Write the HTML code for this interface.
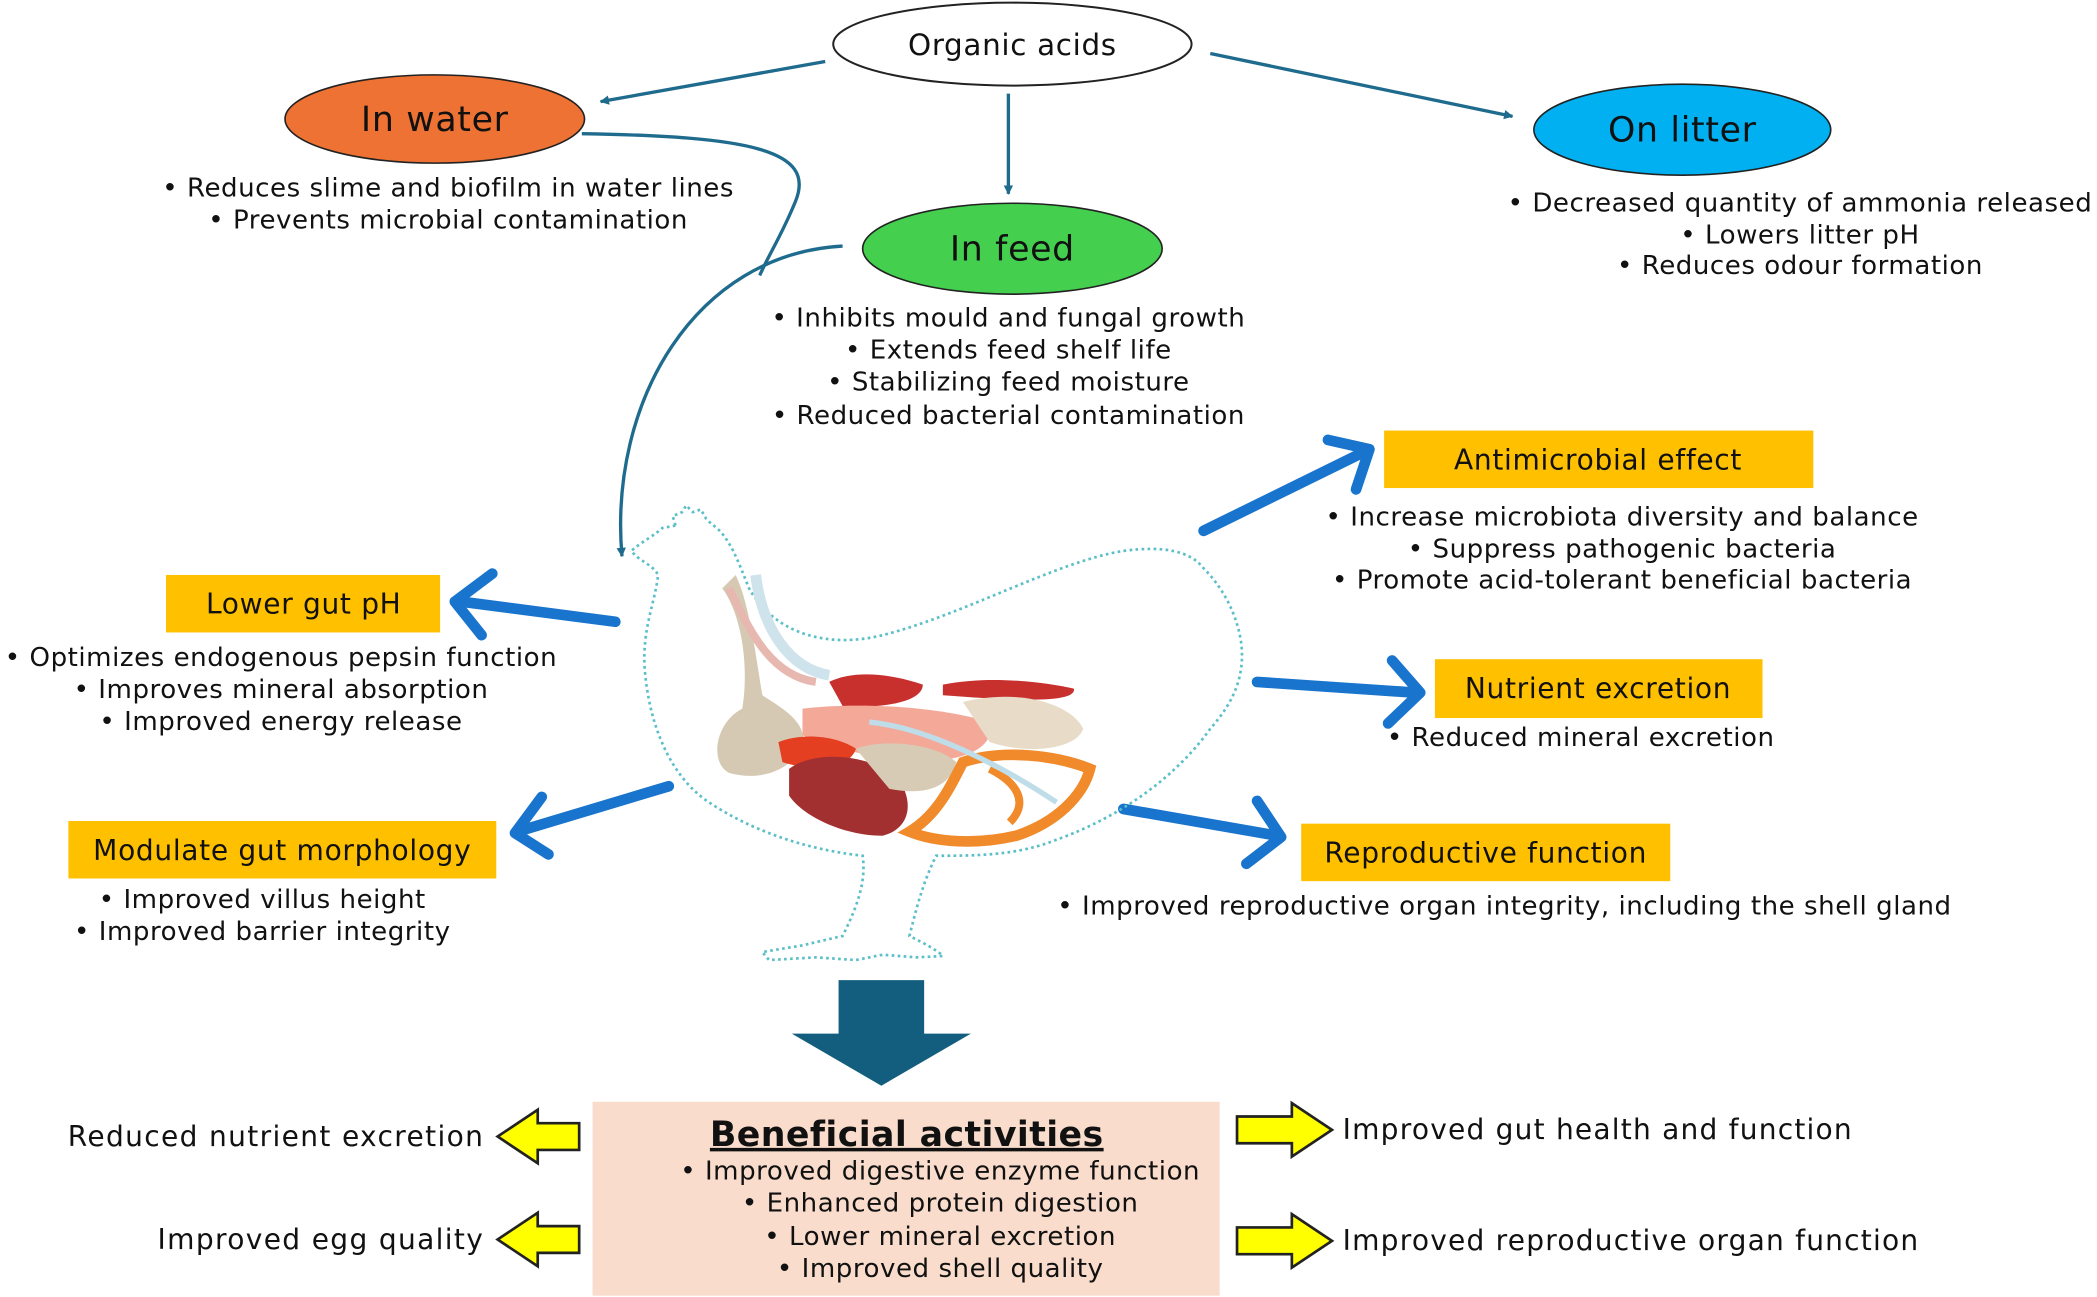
<!DOCTYPE html>
<html><head><meta charset="utf-8"><style>
html,body{margin:0;padding:0;background:#fff;}
svg{display:block;}
text{font-family:"DejaVu Sans","Liberation Sans",sans-serif;fill:#111;letter-spacing:0.5px;}
.b{font-size:19.5px;text-anchor:middle;letter-spacing:0.4px;}
.h{font-size:21px;text-anchor:middle;}
</style></head><body>
<svg width="2097" height="1297" viewBox="0 0 1568 970" xmlns="http://www.w3.org/2000/svg">
<defs>
<marker id="ta" viewBox="0 0 10 10" refX="9" refY="5" markerWidth="7" markerHeight="7" orient="auto-start-reverse" markerUnits="userSpaceOnUse">
<path d="M0,0 L10,5 L0,10 z" fill="#1F6B8E"/></marker>
</defs>
<rect width="1568" height="970" fill="#fff"/>

<g stroke="#1F6B8E" stroke-width="2.5" fill="none">
<line x1="617" y1="46" x2="449" y2="76" marker-end="url(#ta)"/>
<line x1="754" y1="70" x2="754" y2="145" marker-end="url(#ta)"/>
<line x1="905" y1="40" x2="1131" y2="87" marker-end="url(#ta)"/>
<path d="M435,100 C560,102 610,112 595,150 C585,175 575,190 568,206"/>
<path d="M630,184 C520,190 455,300 465,416" marker-end="url(#ta)"/>
</g>

<ellipse cx="757" cy="33" rx="134" ry="31" fill="#fff" stroke="#222" stroke-width="1.5"/>
<text x="757" y="41" class="h" style="font-size:22px">Organic acids</text>
<ellipse cx="325" cy="89" rx="112" ry="33" fill="#ED7233" stroke="#222" stroke-width="1.2"/>
<text x="325" y="98" class="h" style="font-size:26px">In water</text>
<ellipse cx="1258" cy="97" rx="111" ry="34" fill="#00B0F0" stroke="#222" stroke-width="1.2"/>
<text x="1258" y="106" class="h" style="font-size:26px">On litter</text>
<ellipse cx="757" cy="186" rx="112" ry="34" fill="#44CF4F" stroke="#222" stroke-width="1.2"/>
<text x="757" y="195" class="h" style="font-size:26px">In feed</text>

<text x="335" y="147" class="b">•    Reduces slime and biofilm in water lines</text>
<text x="335" y="171" class="b">•    Prevents microbial contamination</text>
<text x="1346" y="158" class="b">•    Decreased quantity of ammonia released</text>
<text x="1346" y="182" class="b">•    Lowers litter pH</text>
<text x="1346" y="205" class="b">•    Reduces odour formation</text>
<text x="754" y="244" class="b">•    Inhibits mould and fungal growth</text>
<text x="754" y="268" class="b">•    Extends feed shelf life</text>
<text x="754" y="292" class="b">•    Stabilizing feed moisture</text>
<text x="754" y="317" class="b">•    Reduced bacterial contamination</text>

<g fill="#FFC000">
<rect x="1035" y="322" width="321" height="43"/>
<rect x="124" y="430" width="205" height="43"/>
<rect x="1073" y="493" width="245" height="44"/>
<rect x="51" y="614" width="320" height="43"/>
<rect x="973" y="616" width="276" height="43"/>
</g>
<text x="1195" y="351" class="h">Antimicrobial effect</text>
<text x="227" y="459" class="h">Lower gut pH</text>
<text x="1195" y="522" class="h">Nutrient excretion</text>
<text x="211" y="643" class="h">Modulate gut morphology</text>
<text x="1111" y="645" class="h">Reproductive function</text>

<text x="1213" y="393" class="b">•    Increase microbiota diversity and balance</text>
<text x="1213" y="417" class="b">•    Suppress pathogenic bacteria</text>
<text x="1213" y="440" class="b">•    Promote acid-tolerant beneficial bacteria</text>
<text x="210" y="498" class="b">•    Optimizes endogenous pepsin function</text>
<text x="210" y="522" class="b">•    Improves mineral absorption</text>
<text x="210" y="546" class="b">•    Improved energy release</text>
<text x="1182" y="558" class="b">•    Reduced mineral excretion</text>
<text x="196" y="679" class="b">•    Improved villus height</text>
<text x="196" y="703" class="b">•    Improved barrier integrity</text>
<text x="1125" y="684" class="b">•    Improved reproductive organ integrity, including the shell gland</text>

<g stroke="#1874CD" stroke-width="8" fill="none" stroke-linecap="round" stroke-linejoin="round">
<line x1="900" y1="397" x2="1020" y2="338"/><polyline points="993,329 1024,336 1014,366"/>
<line x1="460" y1="465" x2="345" y2="450"/><polyline points="368,429 340,450 360,475"/>
<line x1="940" y1="510" x2="1058" y2="518"/><polyline points="1041,494 1062,518 1038,541"/>
<line x1="500" y1="588" x2="390" y2="621"/><polyline points="405,596 385,623 410,639"/>
<line x1="840" y1="605" x2="955" y2="625"/><polyline points="940,599 958,626 932,646"/>
</g>

<g>
<path d="M505,393 L503,386 L510,383 L513,378 L518,383 L524,381 L528,388 L532,392 C545,400 552,420 560,440 C580,475 620,485 660,475 C720,460 790,420 840,412 C870,408 890,412 900,425 C915,440 925,460 928,480 C932,510 918,530 905,545 C880,580 840,610 790,628 C760,640 730,640 700,640 C690,660 685,680 680,700 C690,705 700,710 705,715 L685,716 L660,714 L640,718 L610,716 L575,718 L570,712 L600,707 L630,700 C640,680 648,660 645,640 C600,635 560,620 530,600 C500,580 485,540 482,500 C480,470 490,450 492,430 C488,422 478,420 472,412 C480,405 490,400 495,395 Z" fill="none" stroke="#5BBFC8" stroke-width="2" stroke-dasharray="2,2.5"/>
<path d="M540,440 C555,460 560,500 555,530 C535,540 530,570 545,578 C570,585 590,575 600,560 C605,540 585,530 570,520 C565,490 560,450 550,430 Z" fill="#D6C9B3"/>
<path d="M545,440 C560,470 575,505 610,510" fill="none" stroke="#E7B8B0" stroke-width="6"/>
<path d="M565,430 C570,470 590,500 620,505" fill="none" stroke="#CFE3EC" stroke-width="8"/>
<path d="M620,510 C640,500 670,505 690,512 C690,525 660,530 630,528 Z" fill="#C8302E"/>
<path d="M705,512 C740,505 780,510 803,515 C805,525 770,525 705,520 Z" fill="#C8302E"/>
<path d="M600,530 C640,525 700,528 740,540 C745,560 720,570 680,570 C650,565 620,560 600,550 Z" fill="#F3A898"/>
<path d="M720,525 C760,515 800,525 810,545 C805,560 770,565 740,555 Z" fill="#E8DCC8"/>
<path d="M582,555 C600,548 625,550 640,560 C635,575 610,578 585,570 Z" fill="#E53F22"/>
<path d="M590,575 C610,560 650,565 670,580 C685,600 680,620 660,625 C630,625 600,610 590,595 Z" fill="#A23030"/>
<path d="M640,560 C660,552 700,556 715,570 C710,590 690,595 665,590 Z" fill="#D8CBB5"/>
<path d="M720,570 C750,560 790,565 815,575 C810,595 790,615 760,625 C730,632 700,630 680,622 C700,610 710,590 720,570 Z" fill="none" stroke="#F08A2A" stroke-width="8"/>
<path d="M740,575 C760,585 770,600 755,615" fill="none" stroke="#F08A2A" stroke-width="6"/>
<path d="M650,540 C700,545 760,580 790,600" fill="none" stroke="#BFDDE8" stroke-width="4"/>
</g>

<polygon points="627,733 691,733 691,773 726,773 659,812 592,773 627,773" fill="#135E7E"/>

<rect x="443" y="824" width="469" height="145" fill="#F9DCCB"/>
<text x="678" y="857" style="font-size:26px;font-weight:bold;text-anchor:middle;text-decoration:underline;letter-spacing:0.3px">Beneficial activities</text>
<text x="703" y="882" class="b">• Improved digestive enzyme function</text>
<text x="703" y="906" class="b">• Enhanced protein digestion</text>
<text x="703" y="931" class="b">• Lower mineral excretion</text>
<text x="703" y="955" class="b">• Improved shell quality</text>

<g fill="#FFFF00" stroke="#222" stroke-width="2" stroke-linejoin="miter">
<polygon points="433,840 402,840 402,830 372,850 402,870 402,860 433,860"/>
<polygon points="433,917 402,917 402,907 372,927 402,947 402,937 433,937"/>
<polygon points="925,835 966,835 966,825 996,845 966,865 966,855 925,855"/>
<polygon points="925,918 966,918 966,908 996,928 966,948 966,938 925,938"/>
</g>
<text x="362" y="857" style="font-size:21px;text-anchor:end;letter-spacing:1px">Reduced nutrient excretion</text>
<text x="362" y="934" style="font-size:21px;text-anchor:end;letter-spacing:1px">Improved egg quality</text>
<text x="1004" y="852" style="font-size:21px;letter-spacing:0.9px">Improved gut health and function</text>
<text x="1004" y="935" style="font-size:21px;letter-spacing:0.9px">Improved reproductive organ function</text>
</svg>
</body></html>
